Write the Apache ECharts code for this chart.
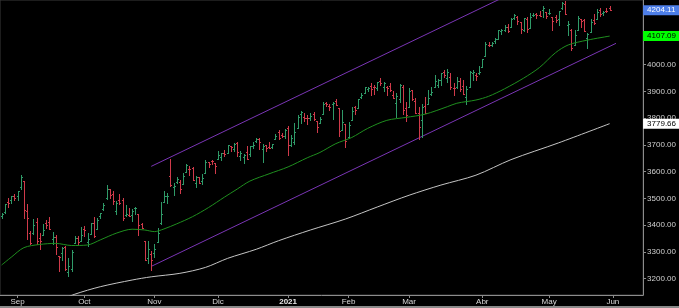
<!DOCTYPE html>
<html><head><meta charset="utf-8">
<script src="https://cdn.jsdelivr.net/npm/echarts@6/dist/echarts.min.js"></script>
<style>html,body{margin:0;padding:0;background:#000;overflow:hidden}#c{width:679px;height:308px}</style>
</head><body><div id="c"></div><script>
// Trading days (month -> day numbers); the June days are empty slots on the right
const months = ['2020-08','2020-09','2020-10','2020-11','2020-12','2021-01','2021-02','2021-03','2021-04','2021-05','2021-06'];
const monthDays = [
  [25,26,27,28,31],
  [1,2,3,4,8,9,10,11,14,15,16,17,18,21,22,23,24,25,28,29,30],
  [1,2,5,6,7,8,9,12,13,14,15,16,19,20,21,22,23,26,27,28,29,30],
  [2,3,4,5,6,9,10,11,12,13,16,17,18,19,20,23,24,25,27,30],
  [1,2,3,4,7,8,9,10,11,14,15,16,17,18,21,22,23,24,28,29,30,31],
  [4,5,6,7,8,11,12,13,14,15,19,20,21,22,25,26,27,28,29],
  [1,2,3,4,5,8,9,10,11,12,16,17,18,19,22,23,24,25,26],
  [1,2,3,4,5,8,9,10,11,12,15,16,17,18,19,22,23,24,25,26,29,30,31],
  [1,5,6,7,8,9,12,13,14,15,16,19,20,21,22,23,26,27,28,29,30],
  [3,4,5,6,7,10,11,12,13,14,17,18,19,20,21,24,25,26,27,28],
  [1,2,3,4,7,8,9,10,11,14]
];
const monthNames = ['2021','Feb','Mar','Abr','May','Jun','Jul','Ago','Sep','Oct','Nov','Dic'];

// OHLC [open, high, low, close] per trading day
const bars = [
  // Aug 2020
  [3435.95,3444.21,3425.84,3443.62],[3449.97,3481.07,3444.15,3478.73],[3485.14,3501.38,3468.35,3484.55],[3494.69,3509.23,3484.32,3508.01],[3509.73,3514.77,3493.25,3500.31],
  // Sep
  [3507.44,3528.03,3494.60,3526.65],[3543.76,3588.11,3535.23,3580.84],[3564.74,3564.85,3427.41,3455.06],[3453.60,3479.15,3349.63,3426.96],[3371.88,3379.97,3329.27,3331.84],
  [3369.82,3424.77,3366.84,3398.96],[3412.56,3425.55,3329.25,3339.19],[3352.70,3368.95,3310.47,3340.97],[3363.56,3402.93,3363.56,3383.54],[3407.73,3419.48,3389.25,3401.20],
  [3411.23,3428.92,3384.45,3385.49],[3346.86,3375.17,3328.82,3357.01],[3357.38,3362.27,3292.40,3319.47],[3285.57,3285.57,3229.10,3281.06],[3295.75,3320.31,3270.95,3315.57],
  [3320.11,3323.35,3232.57,3236.92],[3226.14,3278.70,3209.45,3246.59],[3236.66,3306.88,3228.44,3298.46],[3333.90,3360.74,3332.91,3351.60],[3350.92,3357.92,3327.54,3335.47],
  [3341.21,3393.56,3340.47,3363.00],
  // Oct
  [3385.87,3397.18,3361.39,3380.80],[3338.94,3369.10,3323.69,3348.42],[3367.27,3409.57,3367.27,3408.60],[3408.74,3431.56,3354.54,3360.97],[3384.56,3426.26,3384.56,3419.44],
  [3434.28,3447.28,3428.15,3446.83],[3459.67,3482.34,3458.07,3477.14],[3500.02,3549.85,3499.61,3534.22],[3534.01,3534.01,3500.86,3511.93],[3515.47,3527.94,3480.55,3488.67],
  [3453.72,3489.08,3440.89,3483.34],[3493.50,3515.76,3480.45,3483.81],[3493.66,3502.42,3419.93,3426.92],[3439.38,3476.93,3435.65,3443.12],[3439.91,3464.86,3433.06,3435.56],
  [3438.50,3460.53,3415.34,3453.49],[3464.90,3466.46,3440.45,3465.39],[3441.42,3441.42,3364.86,3400.97],[3403.15,3409.51,3388.71,3390.68],[3342.48,3342.48,3268.89,3271.03],
  [3277.17,3341.05,3259.82,3310.11],[3293.59,3304.93,3233.94,3269.96],
  // Nov
  [3296.20,3330.14,3279.74,3310.24],[3336.25,3389.49,3336.25,3369.16],[3406.46,3486.25,3405.17,3443.44],[3485.74,3529.05,3485.74,3510.45],[3508.34,3521.58,3484.34,3509.44],
  [3583.04,3645.99,3547.48,3550.50],[3543.26,3557.22,3511.91,3545.53],[3563.22,3581.16,3557.00,3572.66],[3562.67,3569.02,3518.58,3537.01],[3552.57,3593.66,3552.57,3585.15],
  [3600.16,3628.51,3600.16,3626.91],[3610.31,3623.11,3588.68,3609.53],[3612.09,3619.09,3567.33,3567.79],[3559.41,3585.22,3543.84,3581.87],[3579.31,3581.23,3556.85,3557.54],
  [3566.82,3589.81,3552.77,3577.59],[3594.52,3642.31,3594.52,3635.41],[3635.50,3635.50,3617.76,3629.65],[3638.55,3644.31,3629.33,3638.35],[3634.18,3634.18,3594.39,3621.63],
  // Dec
  [3645.87,3678.45,3645.87,3662.45],[3653.78,3670.96,3644.84,3669.01],[3668.28,3682.73,3657.17,3666.72],[3670.94,3699.20,3670.94,3699.12],[3694.73,3697.41,3678.88,3691.96],
  [3683.05,3708.45,3678.83,3702.25],[3705.98,3712.39,3660.54,3672.82],[3659.13,3678.49,3645.18,3668.10],[3656.08,3665.91,3633.40,3663.46],[3675.27,3697.61,3645.84,3647.49],
  [3666.41,3695.29,3659.62,3694.62],[3696.25,3711.27,3688.57,3701.17],[3713.65,3725.12,3710.87,3722.48],[3722.39,3726.70,3685.84,3709.41],[3684.28,3702.90,3636.48,3694.92],
  [3698.08,3698.26,3676.16,3687.26],[3693.42,3711.24,3689.28,3690.01],[3694.03,3703.82,3689.32,3703.06],[3723.03,3740.51,3723.03,3735.36],[3750.01,3756.12,3723.31,3727.04],
  [3736.19,3744.63,3730.21,3732.04],[3733.27,3760.20,3726.88,3756.07],
  // Jan 2021
  [3764.61,3769.99,3662.71,3700.65],[3698.02,3737.83,3695.07,3726.86],[3712.20,3783.04,3705.34,3748.14],[3764.71,3811.55,3764.71,3803.79],[3815.05,3826.69,3783.60,3824.68],
  [3803.14,3817.86,3789.02,3799.61],[3801.62,3810.78,3776.51,3801.19],[3802.23,3820.96,3791.50,3809.84],[3814.98,3823.60,3792.86,3795.54],[3788.73,3788.73,3749.62,3768.25],
  [3781.88,3804.53,3780.37,3798.91],[3816.22,3859.75,3816.22,3851.85],[3857.46,3861.45,3845.05,3853.07],[3844.24,3852.31,3830.41,3841.47],[3851.68,3859.23,3797.16,3855.36],
  [3862.96,3870.90,3847.78,3849.62],[3836.83,3836.83,3732.48,3750.77],[3755.75,3830.50,3755.75,3787.38],[3778.05,3778.05,3694.12,3714.24],
  // Feb
  [3731.17,3784.32,3725.62,3773.86],[3791.84,3843.09,3791.84,3826.31],[3840.27,3847.51,3816.68,3830.17],[3836.66,3872.42,3836.66,3871.74],[3878.30,3894.56,3874.93,3886.83],
  [3892.59,3915.77,3892.59,3915.59],[3910.49,3918.35,3902.64,3911.23],[3920.78,3931.50,3884.94,3909.88],[3916.40,3925.99,3890.39,3916.38],[3911.65,3937.23,3905.78,3934.83],
  [3939.61,3950.43,3923.85,3932.59],[3918.50,3933.61,3900.43,3931.33],[3915.86,3921.98,3885.03,3913.97],[3921.16,3930.41,3903.07,3906.71],[3885.55,3902.92,3874.71,3876.50],
  [3857.07,3895.98,3805.59,3881.37],[3873.71,3928.65,3859.60,3925.43],[3915.80,3925.02,3814.04,3829.34],[3839.66,3861.08,3789.54,3811.15],
  // Mar
  [3842.51,3914.50,3842.51,3901.82],[3903.64,3906.41,3868.57,3870.29],[3863.99,3874.47,3818.86,3819.72],[3818.53,3843.67,3723.34,3768.47],[3793.58,3851.69,3730.19,3841.94],
  [3844.39,3881.06,3819.25,3821.35],[3851.93,3903.76,3851.93,3875.44],[3891.99,3917.35,3885.73,3898.81],[3915.54,3960.27,3915.54,3939.34],[3924.52,3944.99,3915.21,3943.34],
  [3942.96,3970.08,3923.54,3968.94],[3973.59,3981.04,3953.44,3962.71],[3949.57,3983.87,3935.74,3974.12],[3953.50,3969.62,3910.86,3915.46],[3913.14,3930.12,3886.75,3913.10],
  [3916.48,3955.31,3914.16,3940.59],[3937.60,3949.13,3901.57,3910.52],[3919.93,3942.08,3889.07,3889.14],[3879.34,3919.54,3853.50,3909.52],[3917.12,3978.19,3917.12,3974.54],
  [3969.31,3981.83,3943.25,3971.09],[3963.34,3968.01,3944.35,3958.55],[3967.25,3994.41,3966.98,3972.89],
  // Apr
  [3992.78,4020.63,3992.78,4019.87],[4034.44,4083.42,4034.44,4077.91],[4075.57,4086.23,4068.14,4073.94],[4074.29,4083.13,4068.31,4079.95],[4089.95,4098.19,4082.54,4097.17],
  [4096.11,4129.48,4095.51,4128.80],[4124.71,4131.76,4114.82,4127.99],[4130.10,4148.00,4124.43,4141.59],[4141.58,4151.69,4120.87,4124.66],[4139.76,4173.49,4139.76,4170.42],
  [4174.14,4191.31,4170.75,4185.47],[4179.80,4180.81,4150.47,4163.26],[4159.18,4159.18,4118.38,4134.94],[4128.42,4175.02,4126.35,4173.42],[4170.46,4179.57,4123.69,4134.98],
  [4138.78,4194.17,4138.78,4180.17],[4185.03,4194.19,4182.36,4187.62],[4188.25,4193.35,4176.22,4186.72],[4185.14,4201.53,4181.78,4183.18],[4206.14,4218.78,4176.81,4211.47],
  [4198.10,4198.10,4174.85,4181.17],
  // May
  [4191.98,4209.39,4188.03,4192.66],[4179.04,4179.04,4128.59,4164.66],[4177.06,4187.72,4160.94,4167.59],[4169.14,4202.70,4147.33,4201.62],[4210.34,4236.39,4208.52,4232.60],
  [4228.29,4238.04,4188.13,4188.43],[4150.34,4162.04,4111.53,4152.10],[4130.55,4134.73,4056.88,4063.04],[4074.99,4131.58,4074.99,4112.50],[4129.58,4183.13,4129.58,4173.85],
  [4169.92,4171.92,4142.69,4163.29],[4165.94,4169.15,4125.99,4127.83],[4098.45,4116.93,4061.41,4115.68],[4121.97,4172.80,4121.97,4159.12],[4168.61,4188.72,4151.72,4155.86],
  [4170.16,4209.52,4170.16,4197.05],[4205.94,4213.42,4182.52,4188.13],[4191.59,4202.61,4184.11,4195.99],[4201.94,4213.38,4197.78,4200.88],[4210.77,4218.36,4203.57,4204.11]
];

// 50-day moving average (green)
const ma50Dates = ['2020-08-25','2020-08-28','2020-09-03','2020-09-11','2020-09-18','2020-09-25','2020-10-02','2020-10-08','2020-10-15','2020-10-22','2020-10-28','2020-11-02','2020-11-05','2020-11-11','2020-11-18','2020-11-25','2020-12-03','2020-12-09','2020-12-15','2020-12-23','2021-01-04','2021-01-12','2021-01-19','2021-01-26','2021-02-02','2021-02-09','2021-02-18','2021-02-26','2021-03-08','2021-03-17','2021-03-22','2021-03-30','2021-04-06','2021-04-13','2021-04-21','2021-04-28','2021-05-05','2021-05-11','2021-05-19','2021-05-28'];
const ma50Values = [3251,3280,3316,3328,3332,3324,3326,3345,3370,3385,3382,3376,3386,3405,3432,3466,3505,3535,3565,3592,3618,3652,3672,3705,3728,3762,3792,3803,3815,3843,3856,3868,3882,3910,3950,3990,4045,4074,4092,4107.09];

// 200-day moving average (white)
const ma200Dates = ['2020-09-21','2020-09-28','2020-10-08','2020-10-22','2020-10-30','2020-11-12','2020-11-24','2020-12-04','2020-12-17','2020-12-29','2021-01-13','2021-01-29','2021-02-12','2021-03-01','2021-03-15','2021-03-30','2021-04-15','2021-05-06','2021-05-28'];
const ma200Values = [3118,3142,3170,3195,3207,3220,3242,3276,3310,3342,3382,3423,3468,3512,3550,3587,3645,3708,3779.66];

// Purple trend channel (two points per line)
const channelDates = ['2020-10-30','2021-06-02'];
const channelLower = [3246,4080];
const channelUpper = [3620,4454];

// Right axis tick labels
const yTicks = [3200,3300,3400,3500,3600,3700,3800,3900,4000,4100,4200];

// ---- build categories
const dates = [];
months.forEach((m, k) => monthDays[k].forEach(d => dates.push(m + '-' + String(d).padStart(2, '0'))));
const isMonthStart = i => i > 0 && dates[i].slice(0, 7) !== dates[i - 1].slice(0, 7);
const idx = d => dates.indexOf(d);

const ohlcData = bars.map((b, i) => [i, b[0], b[1], b[2], b[3]]);
const lastClose = bars[bars.length - 1][3];
const ma50Last = ma50Values[ma50Values.length - 1];
const ma200Last = ma200Values[ma200Values.length - 1];

const FONT = "'Liberation Sans Narrow','Arial Narrow','Liberation Sans',Arial,sans-serif";
const UP = '#2f9a68', DOWN = '#d03a4a';

function renderOHLC(params, api) {
  const i = api.value(0);
  const pO = api.coord([i, api.value(1)]);
  const pH = api.coord([i, api.value(2)]);
  const pL = api.coord([i, api.value(3)]);
  const pC = api.coord([i, api.value(4)]);
  const x = Math.round(pO[0]) + 0.5;
  const color = api.value(4) >= api.value(1) ? UP : DOWN;
  const style = { stroke: color, lineWidth: 1, fill: null };
  const yO = Math.round(pO[1]) + 0.5, yC = Math.round(pC[1]) + 0.5;
  return {
    type: 'group',
    children: [
      { type: 'line', shape: { x1: x, y1: Math.round(pH[1]), x2: x, y2: Math.round(pL[1]) + 1 }, style },
      { type: 'line', shape: { x1: x - 1.5, y1: yO, x2: x, y2: yO }, style },
      { type: 'line', shape: { x1: x, y1: yC, x2: x + 1.5, y2: yC }, style }
    ]
  };
}

const tagLabel = (bg, fg) => ({
  show: true, position: 'end', distance: 0,
  formatter: p => Number(p.value).toFixed(2),
  backgroundColor: bg, color: fg, padding: [1, 4, 0, 4],
  fontSize: 8, lineHeight: 9, fontFamily: FONT
});

const chart = echarts.init(document.getElementById('c'), null, { renderer: 'canvas' });
chart.setOption({
  backgroundColor: '#000',
  animation: false,
  grid: { left: 0, right: 31, top: 0, bottom: 13, show: true, borderColor: '#3a3a3a', borderWidth: 1 },
  xAxis: {
    type: 'category', data: dates, boundaryGap: true,
    axisLine: { show: true, lineStyle: { color: '#8c8c8c', width: 1 } },
    axisTick: { show: true, alignWithLabel: true, length: 3, interval: (i) => isMonthStart(i), lineStyle: { color: '#8c8c8c' } },
    axisLabel: {
      interval: (i) => isMonthStart(i), margin: 3, fontSize: 8, fontFamily: FONT, color: '#d8d8d8',
      formatter: (v) => {
        const n = monthNames[parseInt(v.slice(5, 7), 10) - 1];
        return v.slice(5, 7) === '01' ? '{b|' + n + '}' : n;
      },
      rich: { b: { fontWeight: 'bold', fontSize: 8, fontFamily: FONT, color: '#e8e8e8' } }
    },
    splitLine: { show: false }
  },
  yAxis: {
    type: 'value', position: 'right', min: 3139, max: 4242, scale: true,
    axisLine: { show: true, lineStyle: { color: '#8c8c8c', width: 1 } },
    axisTick: { show: true, length: 3, customValues: yTicks, lineStyle: { color: '#8c8c8c' } },
    axisLabel: { customValues: yTicks, margin: 4, fontSize: 8, fontFamily: FONT, color: '#d0d0d0', formatter: v => v.toFixed(2) },
    splitLine: { show: false }
  },
  series: [
    {
      name: 'Canal inf', type: 'line', data: channelDates.map((d, k) => [idx(d), channelLower[k]]),
      symbol: 'none', lineStyle: { color: '#7a35b5', width: 1 }, clip: true, z: 2
    },
    {
      name: 'Canal sup', type: 'line', data: channelDates.map((d, k) => [idx(d), channelUpper[k]]),
      symbol: 'none', lineStyle: { color: '#7a35b5', width: 1 }, clip: true, z: 2
    },
    {
      name: 'MM200', type: 'line', data: ma200Dates.map((d, k) => [idx(d), ma200Values[k]]),
      symbol: 'none', smooth: 0.3, lineStyle: { color: '#c4c4c4', width: 1 }, clip: true, z: 3
    },
    {
      name: 'MM50', type: 'line', data: ma50Dates.map((d, k) => [idx(d), ma50Values[k]]),
      symbol: 'none', smooth: 0.3, lineStyle: { color: '#1f8f1f', width: 1 }, clip: false, z: 5,
      markLine: {
        silent: true, symbol: ['none', 'none'], animation: false, z: 10,
        lineStyle: { color: 'rgba(0,0,0,0)', width: 1, type: 'solid' },
        emphasis: { disabled: true },
        data: [
          { yAxis: lastClose, label: tagLabel('#4d7ee8', '#ffffff') },
          { yAxis: ma50Last, label: tagLabel('#00ff00', '#000000') },
          { yAxis: ma200Last, label: tagLabel('#ffffff', '#000000') }
        ]
      }
    },
    {
      name: 'SPX', type: 'custom', renderItem: renderOHLC, data: ohlcData,
      encode: { x: 0, y: [1, 2, 3, 4] }, clip: true, z: 4
    }
  ],
  graphic: [{ type: 'rect', shape: { x: 0, y: 306, width: 679, height: 2 }, style: { fill: '#8a8a8a' }, silent: true }]
});
</script></body></html>
